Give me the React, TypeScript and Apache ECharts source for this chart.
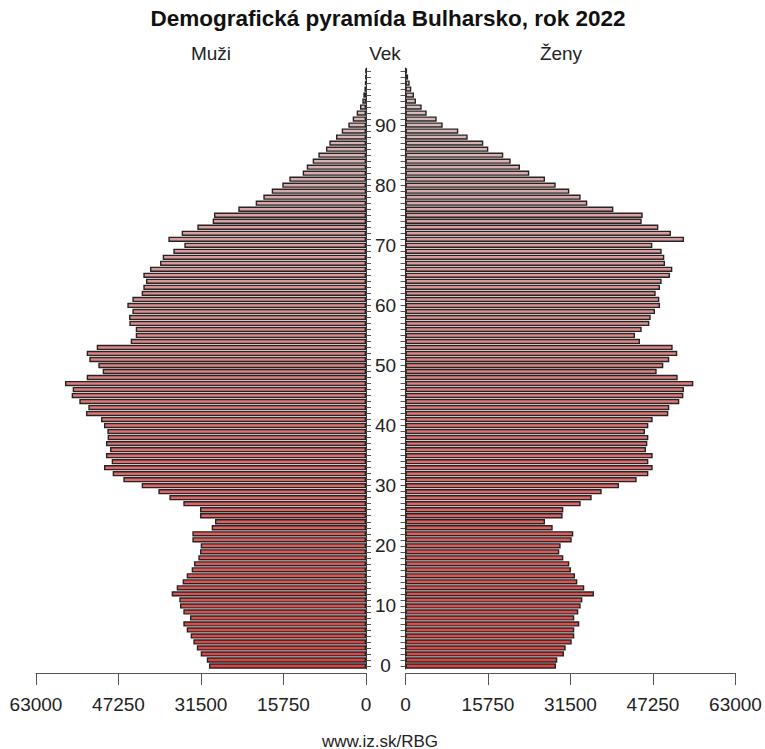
import React, { useEffect, useRef } from 'react';
import * as echarts from 'echarts';

const AGES: string[] = [
  '0','1','2','3','4','5','6','7','8','9',
  '10','11','12','13','14','15','16','17','18','19',
  '20','21','22','23','24','25','26','27','28','29',
  '30','31','32','33','34','35','36','37','38','39',
  '40','41','42','43','44','45','46','47','48','49',
  '50','51','52','53','54','55','56','57','58','59',
  '60','61','62','63','64','65','66','67','68','69',
  '70','71','72','73','74','75','76','77','78','79',
  '80','81','82','83','84','85','86','87','88','89',
  '90','91','92','93','94','95','96','97','98','99',
];

const AGE_TICK_LABELS = ['0', '10', '20', '30', '40', '50', '60', '70', '80', '90'];

const MALE: number[] = [
  29970, 30400, 31560, 32300, 32960, 33470, 34230, 34870, 33600, 34870,
  35510, 35640, 37100, 36140, 35000, 34230, 33280, 32830, 32010, 31690,
  31560, 33150, 33150, 29460, 28830, 31690, 31690, 34870, 37540, 39640,
  42830, 46330, 48360, 50020, 48550, 49640, 48870, 49640, 49320, 49380,
  50020, 50590, 53450, 53010, 54730, 56190, 56000, 57460, 53320, 50270,
  51100, 52820, 53320, 51410, 44920, 43960, 43960, 45180, 45240, 44600,
  45560, 44600, 42830, 42510, 42000, 42510, 41230, 39320, 38810, 36780,
  34680, 37730, 35190, 32200, 29270, 29020, 24380, 21060, 19600, 18000,
  15980, 14640, 12090, 11320, 10180, 9100, 7640, 7000, 5730, 4640,
  3370, 2540, 1780, 1150, 700, 500, 300, 180, 100, 60,
];

const FEMALE: number[] = [
  28730, 28980, 30260, 30580, 31730, 32220, 32220, 33180, 32220, 32990,
  33440, 33760, 35990, 34130, 32800, 32360, 31590, 31270, 30130, 29360,
  29620, 31730, 32030, 28100, 26630, 30000, 30130, 33440, 35540, 37450,
  40760, 44130, 46360, 47190, 46360, 47190, 45910, 46170, 46360, 45720,
  46360, 47190, 50170, 50360, 52270, 53040, 53170, 54950, 51960, 47950,
  49220, 50360, 51890, 51000, 44770, 43810, 45090, 46550, 46810, 47630,
  48590, 48460, 47760, 48590, 48900, 50490, 50940, 49540, 49410, 48900,
  47120, 53170, 50680, 48270, 45090, 45280, 39680, 34710, 33440, 31270,
  28670, 26630, 23630, 21860, 20080, 18670, 15810, 14850, 11870, 10080,
  7100, 5950, 4040, 3090, 2000, 1620, 1100, 800, 500, 300,
];

const X_MAX = 63000;
const X_STEP = 15750;

const TITLE = 'Demografická pyramída Bulharsko, rok 2022';
const LEFT_LABEL = 'Muži';
const MID_LABEL = 'Vek';
const RIGHT_LABEL = 'Ženy';
const FOOTER = 'www.iz.sk/RBG';

export default function App() {
  const ref = useRef<HTMLDivElement>(null);

  useEffect(() => {
    if (!ref.current) return;
    const chart = echarts.init(ref.current, null, { renderer: 'svg' });
    const FONT = '"Liberation Sans", Arial, Helvetica, sans-serif';
    const n = AGES.length;
    const colorAt = (i: number) => {
      const t = i / (n - 1);
      const r = Math.round(226 + (214 - 226) * t);
      const g = Math.round(64 + (196 - 64) * t);
      const b = Math.round(64 + (196 - 64) * t);
      return `rgb(${r},${g},${b})`;
    };
    const axisColor = '#555';
    const textColor = '#222';
    const barBorder = '#2a2222';

    const xAxisCommon = {
      type: 'value',
      min: 0,
      max: X_MAX,
      interval: X_STEP,
      offset: 4,
      axisLine: { show: true, lineStyle: { color: axisColor, width: 1 } },
      axisTick: { show: true, length: 12, lineStyle: { color: axisColor } },
      axisLabel: {
        show: true,
        fontSize: 19,
        fontFamily: FONT,
        color: textColor,
        margin: 22,
        showMinLabel: true,
        showMaxLabel: true,
        formatter: (v: number) => String(v),
      },
      splitLine: { show: false },
    };

    const labelInterval = (idx: number, val: string) => AGE_TICK_LABELS.includes(val);

    chart.setOption({
      animation: false,
      grid: [
        { left: 36, right: 399, top: 68, bottom: 80, containLabel: false },
        { left: 405.5, right: 29.5, top: 68, bottom: 80, containLabel: false },
      ],
      xAxis: [
        { ...xAxisCommon, gridIndex: 0, inverse: true },
        { ...xAxisCommon, gridIndex: 1 },
      ],
      yAxis: [
        {
          type: 'category',
          gridIndex: 0,
          data: AGES,
          position: 'right',
          axisLine: { show: true, lineStyle: { color: '#333', width: 1 } },
          axisTick: {
            show: true,
            interval: 0,
            alignWithLabel: true,
            length: 5,
            lineStyle: { color: axisColor },
          },
          axisLabel: {
            show: true,
            interval: labelInterval,
            align: 'center',
            margin: 19.5,
            fontSize: 19,
            fontFamily: FONT,
            color: textColor,
          },
          splitLine: { show: false },
        },
        {
          type: 'category',
          gridIndex: 1,
          data: AGES,
          position: 'left',
          axisLine: { show: true, lineStyle: { color: '#333', width: 1 } },
          axisTick: {
            show: true,
            interval: 0,
            alignWithLabel: true,
            length: 5,
            lineStyle: { color: axisColor },
          },
          axisLabel: { show: false },
          splitLine: { show: false },
        },
      ],
      series: [
        {
          type: 'bar',
          name: LEFT_LABEL,
          xAxisIndex: 0,
          yAxisIndex: 0,
          data: MALE,
          barCategoryGap: '12%',
          itemStyle: {
            color: (p: any) => colorAt(p.dataIndex),
            borderColor: barBorder,
            borderWidth: 1.4,
          },
        },
        {
          type: 'bar',
          name: RIGHT_LABEL,
          xAxisIndex: 1,
          yAxisIndex: 1,
          data: FEMALE,
          barCategoryGap: '12%',
          itemStyle: {
            color: (p: any) => colorAt(p.dataIndex),
            borderColor: barBorder,
            borderWidth: 1.4,
          },
        },
      ],
      graphic: [
        {
          type: 'text',
          x: 388,
          y: 18,
          style: {
            text: TITLE,
            fill: '#111',
            fontSize: 22.5,
            fontWeight: 'bold',
            fontFamily: FONT,
            align: 'center',
            verticalAlign: 'middle',
          },
        },
        {
          type: 'text',
          x: 211,
          y: 53,
          style: { text: LEFT_LABEL, fill: textColor, fontSize: 19, fontFamily: FONT, align: 'center', verticalAlign: 'middle' },
        },
        {
          type: 'text',
          x: 385,
          y: 53,
          style: { text: MID_LABEL, fill: textColor, fontSize: 19, fontFamily: FONT, align: 'center', verticalAlign: 'middle' },
        },
        {
          type: 'text',
          x: 561,
          y: 53,
          style: { text: RIGHT_LABEL, fill: textColor, fontSize: 19, fontFamily: FONT, align: 'center', verticalAlign: 'middle' },
        },
        {
          type: 'text',
          x: 380,
          y: 741,
          style: { text: FOOTER, fill: textColor, fontSize: 17, fontFamily: FONT, align: 'center', verticalAlign: 'middle' },
        },
      ],
    });

    return () => chart.dispose();
  }, []);

  return (
    <div
      ref={ref}
      style={{ position: 'absolute', left: 0, top: 0, width: 765, height: 749 }}
    />
  );
}
